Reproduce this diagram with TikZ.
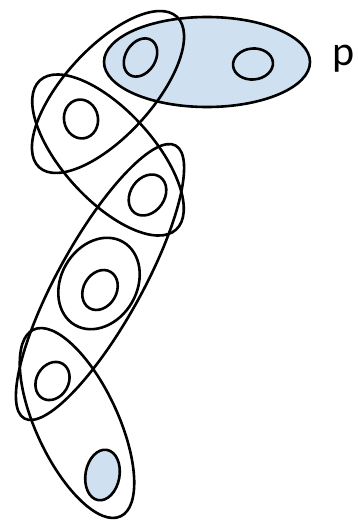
\documentclass[tikz,border=0pt]{standalone}
\usepackage{fontspec}
\setmainfont{Carlito}
\usetikzlibrary{shapes.geometric}
\definecolor{hblue}{RGB}{207,224,241}
\begin{document}
\begin{tikzpicture}[x=1pt,y=-1pt,
  hedge/.style={draw=black, line width=2.6pt, ellipse, inner sep=0pt, outer sep=0pt},
  vtx/.style={draw=black, line width=2.6pt, ellipse, inner sep=0pt, outer sep=0pt}]
\useasboundingbox (0,0) rectangle (358,522);
% hyperedge with blue fill
\node[hedge, fill=hblue, minimum width=206pt, minimum height=90pt] (e1) at (207,62) {};
% other hyperedges
\node[hedge, minimum width=204pt, minimum height=88pt, rotate=47.6] (e2) at (108,92) {};
\node[hedge, minimum width=202pt, minimum height=90pt, rotate=-47.6] (e3) at (108,155) {};
\node[hedge, minimum width=312pt, minimum height=84pt, rotate=61] (e4) at (100,282) {};
\node[hedge, minimum width=96pt, minimum height=76pt, rotate=60] (e5) at (99,283.5) {};
\node[hedge, minimum width=206pt, minimum height=82pt, rotate=-65] (e6) at (77,423) {};
% vertices
\node[vtx, minimum width=41pt, minimum height=30pt, rotate=58] (v1) at (140.5,57.5) {};
\node[vtx, minimum width=40pt, minimum height=31pt, rotate=5] (v2) at (253,64) {};
\node[vtx, minimum width=39pt, minimum height=34pt, rotate=100] (v3) at (81,119) {};
\node[vtx, minimum width=44pt, minimum height=34pt, rotate=55] (v4) at (147.5,195) {};
\node[vtx, minimum width=42pt, minimum height=33pt, rotate=60] (v5) at (100,290) {};
\node[vtx, minimum width=40pt, minimum height=32pt, rotate=60] (v6) at (52.5,381) {};
\node[vtx, fill=hblue, minimum width=51pt, minimum height=34pt, rotate=80] (v7) at (102.5,475) {};
% label
\node[font=\fontsize{42}{42}\selectfont, inner sep=0pt, anchor=base] (lp) at (344,65) {p};
\end{tikzpicture}
\end{document}
